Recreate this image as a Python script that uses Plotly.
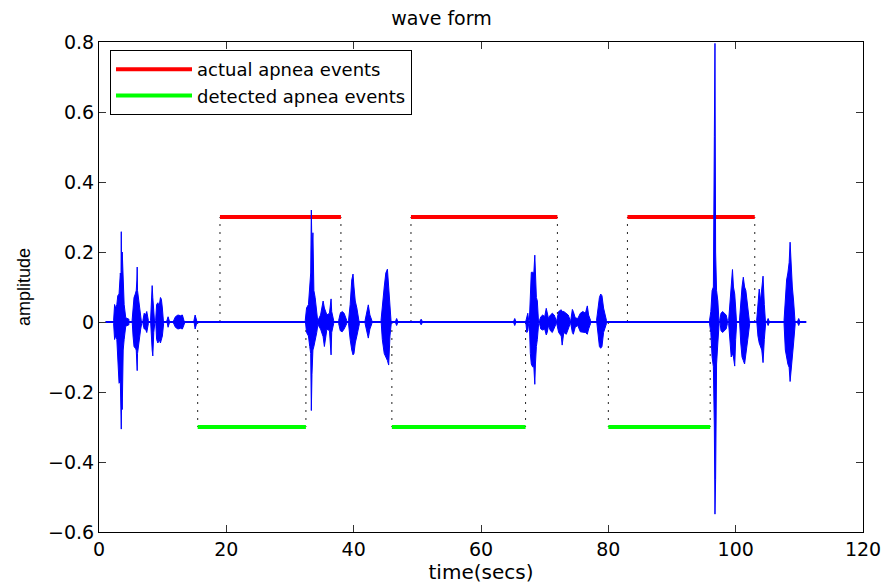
import plotly.graph_objects as go

# ---------------- data ----------------
actual_start = [19.0, 49.0, 83.0]
actual_end = [38.0, 72.0, 103.0]
detected_start = [15.5, 46.0, 80.0]
detected_end = [32.5, 67.0, 96.0]
actual_level = 0.3
detected_level = -0.3

signal_start = 1.0
signal_end = 111.1

# envelope of each sound burst: times, upper envelope, lower envelope
burst_t = [
    [2.3, 2.45, 2.6, 2.8, 2.95, 3.15, 3.35, 3.45, 3.5, 3.55, 3.65, 3.8, 3.95, 4.2, 4.7],
    [5.2, 5.35, 5.5, 5.7, 5.85, 5.95, 6.0, 6.05, 6.2, 6.35, 6.55, 6.7],
    [6.9, 7.1, 7.3, 7.5, 7.75],
    [8.1, 8.25, 8.35, 8.45, 8.6, 8.75],
    [8.9, 9.05, 9.25, 9.45, 9.65, 9.8, 9.95, 10.15],
    [10.65, 10.85, 11.05],
    [11.7, 12.0, 12.4, 12.8, 13.1, 13.45],
    [14.9, 15.1, 15.35],
    [32.4, 32.6, 32.9, 33.1, 33.25, 33.35, 33.45, 33.6, 33.75, 33.95, 34.2, 34.4],
    [34.4, 34.6, 34.8, 35.2, 35.4, 35.8, 36.2, 36.45, 36.55, 36.85],
    [37.65, 37.9, 38.2, 38.5, 38.9],
    [39.2, 39.45, 39.7, 39.9, 40.05, 40.25, 40.5, 40.9],
    [41.8, 42.1, 42.3, 42.55, 42.85],
    [44.3, 44.5, 44.8, 45.05, 45.3, 45.5, 45.7, 45.9],
    [46.6, 46.75, 46.9],
    [50.45, 50.6, 50.75],
    [65.15, 65.3, 65.45],
    [67.05, 67.2, 67.35, 67.5],
    [67.6, 67.75, 67.9, 68.1, 68.3, 68.45, 68.55, 68.7, 68.85, 69.05],
    [69.2, 69.4, 69.7, 70.0, 70.25, 70.4, 70.6, 70.9, 71.2, 71.5, 71.8],
    [71.9, 72.2, 72.6, 72.75, 73.0, 73.4, 73.7, 74.0],
    [74.1, 74.35, 74.5, 74.8, 75.2, 75.6, 76.0, 76.4, 76.7, 76.9, 77.2],
    [78.15, 78.35, 78.6, 78.8, 79.0, 79.25, 79.5, 79.7],
    [95.9, 96.1, 96.3, 96.5, 96.65, 96.75, 96.85, 97.0, 97.2, 97.4],
    [97.5, 97.7, 97.95, 98.2, 98.5, 98.7],
    [98.9, 99.1, 99.3, 99.5, 99.65, 99.85, 100.0, 100.15],
    [100.6, 100.8, 101.0, 101.2, 101.4, 101.6, 101.9, 102.2],
    [103.3, 103.5, 103.7, 103.9, 104.1, 104.3, 104.5, 104.7],
    [104.95, 105.1, 105.25],
    [107.6, 107.8, 108.0, 108.2, 108.4, 108.55, 108.7, 108.9, 109.1, 109.35],
    [109.75, 109.9, 110.05],
]
burst_top = [
    [0.005, 0.05, 0.04, 0.05, 0.075, 0.08, 0.14, 0.12, 0.258, 0.15, 0.2, 0.08, 0.05, 0.012, 0.008],
    [0.005, 0.04, 0.07, 0.08, 0.09, 0.12, 0.157, 0.09, 0.07, 0.05, 0.02, 0.005],
    [0.005, 0.025, 0.02, 0.03, 0.005],
    [0.005, 0.06, 0.104, 0.07, 0.03, 0.005],
    [0.005, 0.05, 0.055, 0.045, 0.07, 0.065, 0.04, 0.005],
    [0.003, 0.015, 0.003],
    [0.003, 0.015, 0.02, 0.018, 0.02, 0.003],
    [0.003, 0.02, 0.003],
    [0.005, 0.04, 0.05, 0.1, 0.14, 0.32, 0.2, 0.255, 0.09, 0.07, 0.03, 0.005],
    [0.005, 0.015, 0.02, 0.06, 0.04, 0.02, 0.025, 0.066, 0.03, 0.005],
    [0.005, 0.025, 0.03, 0.025, 0.005],
    [0.005, 0.05, 0.12, 0.137, 0.1, 0.06, 0.04, 0.005],
    [0.005, 0.03, 0.049, 0.02, 0.005],
    [0.005, 0.05, 0.1, 0.14, 0.151, 0.1, 0.04, 0.005],
    [0.003, 0.01, 0.003],
    [0.003, 0.008, 0.003],
    [0.003, 0.01, 0.003],
    [0.003, 0.02, 0.025, 0.003],
    [0.005, 0.1, 0.142, 0.142, 0.14, 0.191, 0.12, 0.07, 0.06, 0.005],
    [0.005, 0.015, 0.02, 0.015, 0.039, 0.025, 0.01, 0.02, 0.025, 0.02, 0.005],
    [0.005, 0.03, 0.035, 0.03, 0.03, 0.025, 0.02, 0.005],
    [0.005, 0.036, 0.03, 0.012, 0.01, 0.025, 0.03, 0.025, 0.046, 0.02, 0.005],
    [0.005, 0.03, 0.07, 0.08, 0.075, 0.04, 0.02, 0.005],
    [0.005, 0.03, 0.09, 0.1, 0.53, 0.796, 0.2, 0.09, 0.06, 0.005],
    [0.005, 0.025, 0.03, 0.025, 0.02, 0.005],
    [0.005, 0.06, 0.1, 0.15, 0.1, 0.08, 0.04, 0.005],
    [0.005, 0.06, 0.1, 0.128, 0.1, 0.09, 0.05, 0.005],
    [0.005, 0.04, 0.094, 0.06, 0.09, 0.131, 0.05, 0.005],
    [0.003, 0.01, 0.003],
    [0.005, 0.08, 0.12, 0.14, 0.17, 0.228, 0.15, 0.1, 0.06, 0.005],
    [0.003, 0.01, 0.003],
]
burst_bot = [
    [-0.005, -0.05, -0.04, -0.05, -0.12, -0.175, -0.17, -0.2, -0.306, -0.22, -0.25, -0.08, -0.05, -0.012, -0.008],
    [-0.005, -0.04, -0.07, -0.075, -0.08, -0.11, -0.139, -0.09, -0.075, -0.05, -0.02, -0.005],
    [-0.005, -0.02, -0.02, -0.03, -0.005],
    [-0.005, -0.05, -0.08, -0.097, -0.03, -0.005],
    [-0.005, -0.05, -0.06, -0.05, -0.06, -0.055, -0.04, -0.005],
    [-0.003, -0.015, -0.003],
    [-0.003, -0.015, -0.02, -0.018, -0.02, -0.003],
    [-0.003, -0.02, -0.003],
    [-0.005, -0.03, -0.04, -0.07, -0.09, -0.253, -0.15, -0.08, -0.07, -0.06, -0.03, -0.005],
    [-0.005, -0.015, -0.02, -0.042, -0.07, -0.02, -0.025, -0.094, -0.03, -0.005],
    [-0.005, -0.025, -0.028, -0.02, -0.005],
    [-0.005, -0.05, -0.08, -0.094, -0.09, -0.06, -0.04, -0.005],
    [-0.005, -0.03, -0.046, -0.02, -0.005],
    [-0.005, -0.05, -0.09, -0.1, -0.11, -0.123, -0.04, -0.005],
    [-0.003, -0.01, -0.003],
    [-0.003, -0.008, -0.003],
    [-0.003, -0.01, -0.003],
    [-0.003, -0.03, -0.025, -0.003],
    [-0.005, -0.09, -0.12, -0.128, -0.128, -0.178, -0.12, -0.07, -0.05, -0.005],
    [-0.005, -0.02, -0.023, -0.02, -0.037, -0.03, -0.01, -0.025, -0.03, -0.02, -0.005],
    [-0.005, -0.03, -0.04, -0.066, -0.03, -0.035, -0.02, -0.005],
    [-0.005, -0.03, -0.035, -0.015, -0.01, -0.028, -0.03, -0.03, -0.035, -0.02, -0.005],
    [-0.005, -0.03, -0.07, -0.075, -0.07, -0.03, -0.02, -0.005],
    [-0.005, -0.03, -0.1, -0.128, -0.3, -0.549, -0.45, -0.12, -0.06, -0.005],
    [-0.005, -0.025, -0.03, -0.025, -0.02, -0.005],
    [-0.005, -0.06, -0.1, -0.09, -0.1, -0.126, -0.05, -0.005],
    [-0.005, -0.06, -0.1, -0.11, -0.12, -0.1, -0.05, -0.005],
    [-0.005, -0.04, -0.06, -0.07, -0.08, -0.116, -0.05, -0.005],
    [-0.003, -0.01, -0.003],
    [-0.005, -0.08, -0.1, -0.12, -0.13, -0.17, -0.14, -0.1, -0.06, -0.005],
    [-0.003, -0.01, -0.003],
]

x_ticks = [0, 20, 40, 60, 80, 100, 120]
y_ticks = [-0.6, -0.4, -0.2, 0, 0.2, 0.4, 0.6, 0.8]

# ---------------- build traces ----------------
def segments(starts, ends, level):
    xs, ys = [], []
    for s, e in zip(starts, ends):
        xs += [s, e, None]
        ys += [level, level, None]
    return xs, ys


def drops(starts, ends, level):
    xs, ys = [], []
    for t in list(starts) + list(ends):
        xs += [t, t, None]
        ys += [0, level, None]
    return xs, ys


fig = go.Figure()

dx, dy = drops(actual_start, actual_end, actual_level)
gx, gy = drops(detected_start, detected_end, detected_level)
fig.add_trace(go.Scatter(x=dx + gx, y=dy + gy, mode="lines",
                         line=dict(color="#222222", width=1, dash="2px,6px"),
                         showlegend=False, hoverinfo="skip"))

ax, ay = segments(actual_start, actual_end, actual_level)
fig.add_trace(go.Scatter(x=ax, y=ay, mode="lines", name="actual apnea events",
                         line=dict(color="#ff0000", width=4)))
bx, by = segments(detected_start, detected_end, detected_level)
fig.add_trace(go.Scatter(x=bx, y=by, mode="lines", name="detected apnea events",
                         line=dict(color="#00ff00", width=4)))

# baseline of the waveform
fig.add_trace(go.Scatter(x=[signal_start, signal_end], y=[0, 0], mode="lines",
                         line=dict(color="#0000ff", width=2),
                         showlegend=False, hoverinfo="skip"))

px_, py_ = [], []
for t, top, bot in zip(burst_t, burst_top, burst_bot):
    px_ += list(t) + list(reversed(t)) + [t[0], None]
    py_ += list(top) + list(reversed(bot)) + [top[0], None]
fig.add_trace(go.Scatter(x=px_, y=py_, mode="lines", fill="toself",
                         fillcolor="#0000ff", line=dict(color="#0000ff", width=1),
                         showlegend=False, hoverinfo="skip"))

axis_common = dict(showline=True, linecolor="black", linewidth=1, mirror="ticks",
                   ticks="inside", ticklen=7, tickcolor="#333333", showgrid=False,
                   zeroline=False, automargin=False,
                   tickfont=dict(family="DejaVu Sans", size=19, color="black"))

fig.update_layout(
    width=883, height=584,
    margin=dict(l=99, r=20, t=42, b=52),
    paper_bgcolor="white", plot_bgcolor="white",
    title=dict(text="wave form", x=0.5, xanchor="center", y=1 - 18 / 584,
               yanchor="middle", font=dict(family="DejaVu Sans", size=19, color="black")),
    xaxis=dict(range=[0, 120], tickvals=x_ticks,
               title=dict(text="time(secs)", standoff=2,
                          font=dict(family="DejaVu Sans", size=20, color="black")),
               **axis_common),
    yaxis=dict(range=[-0.6, 0.8], tickvals=y_ticks,
               title=dict(text="amplitude", standoff=12,
                          font=dict(family="Liberation Sans", size=18, color="black")),
               **axis_common),
    legend=dict(x=(110 - 99) / 764, y=(532 - 50) / 490, xanchor="left", yanchor="top",
                bgcolor="white", bordercolor="black", borderwidth=1,
                font=dict(family="DejaVu Sans", size=18, color="black"),
                itemwidth=76, tracegroupgap=0),
    showlegend=True,
)

fig.write_html("out.html", config={"displayModeBar": False},
               post_script="document.body.style.margin='0';")
